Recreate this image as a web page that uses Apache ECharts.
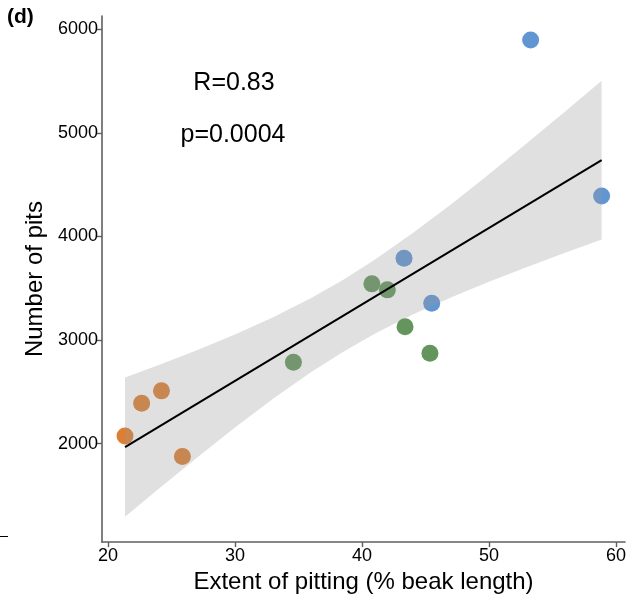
<!DOCTYPE html>
<html>
<head>
<meta charset="utf-8">
<script src="https://cdn.jsdelivr.net/npm/echarts@6/dist/echarts.min.js"></script>
<style>
  html, body { margin: 0; padding: 0; background: #fff; }
  #chart { width: 635px; height: 599px; }
</style>
</head>
<body>
<div id="chart"></div>
<script>
// Points (extent of pitting %, number of pits), by group
const orangeX = [21.34, 22.65, 24.21, 25.86];
const orangeY = [2074, 2390, 2509, 1875];
const greenX = [34.6, 40.78, 42.0, 43.39, 45.35];
const greenY = [2786, 3542, 3484, 3129, 2873];
const blueX = [43.31, 45.49, 53.28, 58.87];
const blueY = [3790, 3355, 5897, 4391];

// Fitted line end points
const lineX = [21.34, 58.87];
const lineY = [1965, 4737];

// Confidence band
const bandX = [21.34, 24, 27, 30, 33, 36, 38.5, 41, 44, 47, 50, 53, 56, 58.87];
const bandUpper = [2637, 2759, 2902, 3054, 3219, 3405, 3579, 3774, 4032, 4309, 4601, 4901, 5207, 5503];
const bandLower = [1293, 1563, 1864, 2156, 2433, 2691, 2885, 3060, 3246, 3411, 3563, 3705, 3843, 3971];

// Tick labels
const xTicks = [20, 30, 40, 50, 60];
const yTicks = [2000, 3000, 4000, 5000, 6000];

const zip = (a, b) => a.map((v, i) => [v, b[i]]);

const chart = echarts.init(document.getElementById('chart'), null, { renderer: 'canvas' });

const axisCommon = {
  axisLine: { show: true, lineStyle: { color: '#5f5f5f', width: 1.6 } },
  axisTick: { show: true, length: 5, lineStyle: { color: '#5f5f5f', width: 1.4 } },
  splitLine: { show: false },
  nameLocation: 'middle',
  nameTextStyle: { fontFamily: 'Liberation Sans', fontSize: 24, color: '#000' }
};

chart.setOption({
  animation: false,
  backgroundColor: '#fff',
  grid: { left: 102, right: 10, top: 16, bottom: 56, containLabel: false },
  xAxis: Object.assign({}, axisCommon, {
    type: 'value',
    min: 19.528,
    max: 60.71,
    name: 'Extent of pitting (% beak length)',
    nameGap: 25,
    axisTick: Object.assign({}, axisCommon.axisTick, { customValues: xTicks }),
    axisLabel: { customValues: xTicks, formatter: v => String(v), fontFamily: 'Liberation Sans', fontSize: 18, color: '#000', margin: 5 }
  }),
  yAxis: Object.assign({}, axisCommon, {
    type: 'value',
    min: 1049,
    max: 6128,
    name: 'Number of pits',
    nameGap: 38,
    axisTick: Object.assign({}, axisCommon.axisTick, { customValues: yTicks }),
    axisLabel: { customValues: yTicks, formatter: v => String(v), fontFamily: 'Liberation Sans', fontSize: 18, color: '#000', margin: 4 }
  }),
  graphic: [
    { type: 'text', left: 7, top: 7, style: { text: '(d)', fontFamily: 'Liberation Sans', fontWeight: 'bold', fontSize: 21, fill: '#000' } },
    { type: 'text', x: 234, y: 83, style: { text: 'R=0.83', fontFamily: 'Liberation Sans', fontSize: 25, fill: '#000', align: 'center', verticalAlign: 'middle' } },
    { type: 'text', x: 233, y: 135, style: { text: 'p=0.0004', fontFamily: 'Liberation Sans', fontSize: 25, fill: '#000', align: 'center', verticalAlign: 'middle' } },
    { type: 'line', shape: { x1: 0, y1: 536.5, x2: 8, y2: 536.5 }, style: { stroke: '#000', lineWidth: 1 } }
  ],
  series: [
    { type: 'scatter', data: zip(orangeX, orangeY), symbolSize: 17, itemStyle: { color: '#D55E00' }, z: 2 },
    { type: 'scatter', data: zip(greenX, greenY), symbolSize: 17, itemStyle: { color: '#3D7B34' }, z: 2 },
    { type: 'scatter', data: zip(blueX, blueY), symbolSize: 17, itemStyle: { color: '#3A7CC8' }, z: 2 },
    {
      type: 'custom',
      silent: true,
      z: 3,
      data: [[bandX[0], bandUpper[0]]],
      renderItem: function (params, api) {
        const pts = [];
        for (let i = 0; i < bandX.length; i++) pts.push(api.coord([bandX[i], bandUpper[i]]));
        for (let i = bandX.length - 1; i >= 0; i--) pts.push(api.coord([bandX[i], bandLower[i]]));
        return { type: 'polygon', shape: { points: pts }, style: { fill: 'rgba(153,153,153,0.3)' } };
      }
    },
    {
      type: 'line',
      data: zip(lineX, lineY),
      symbol: 'none',
      lineStyle: { color: '#000', width: 2 },
      z: 4
    }
  ]
});
</script>
</body>
</html>
